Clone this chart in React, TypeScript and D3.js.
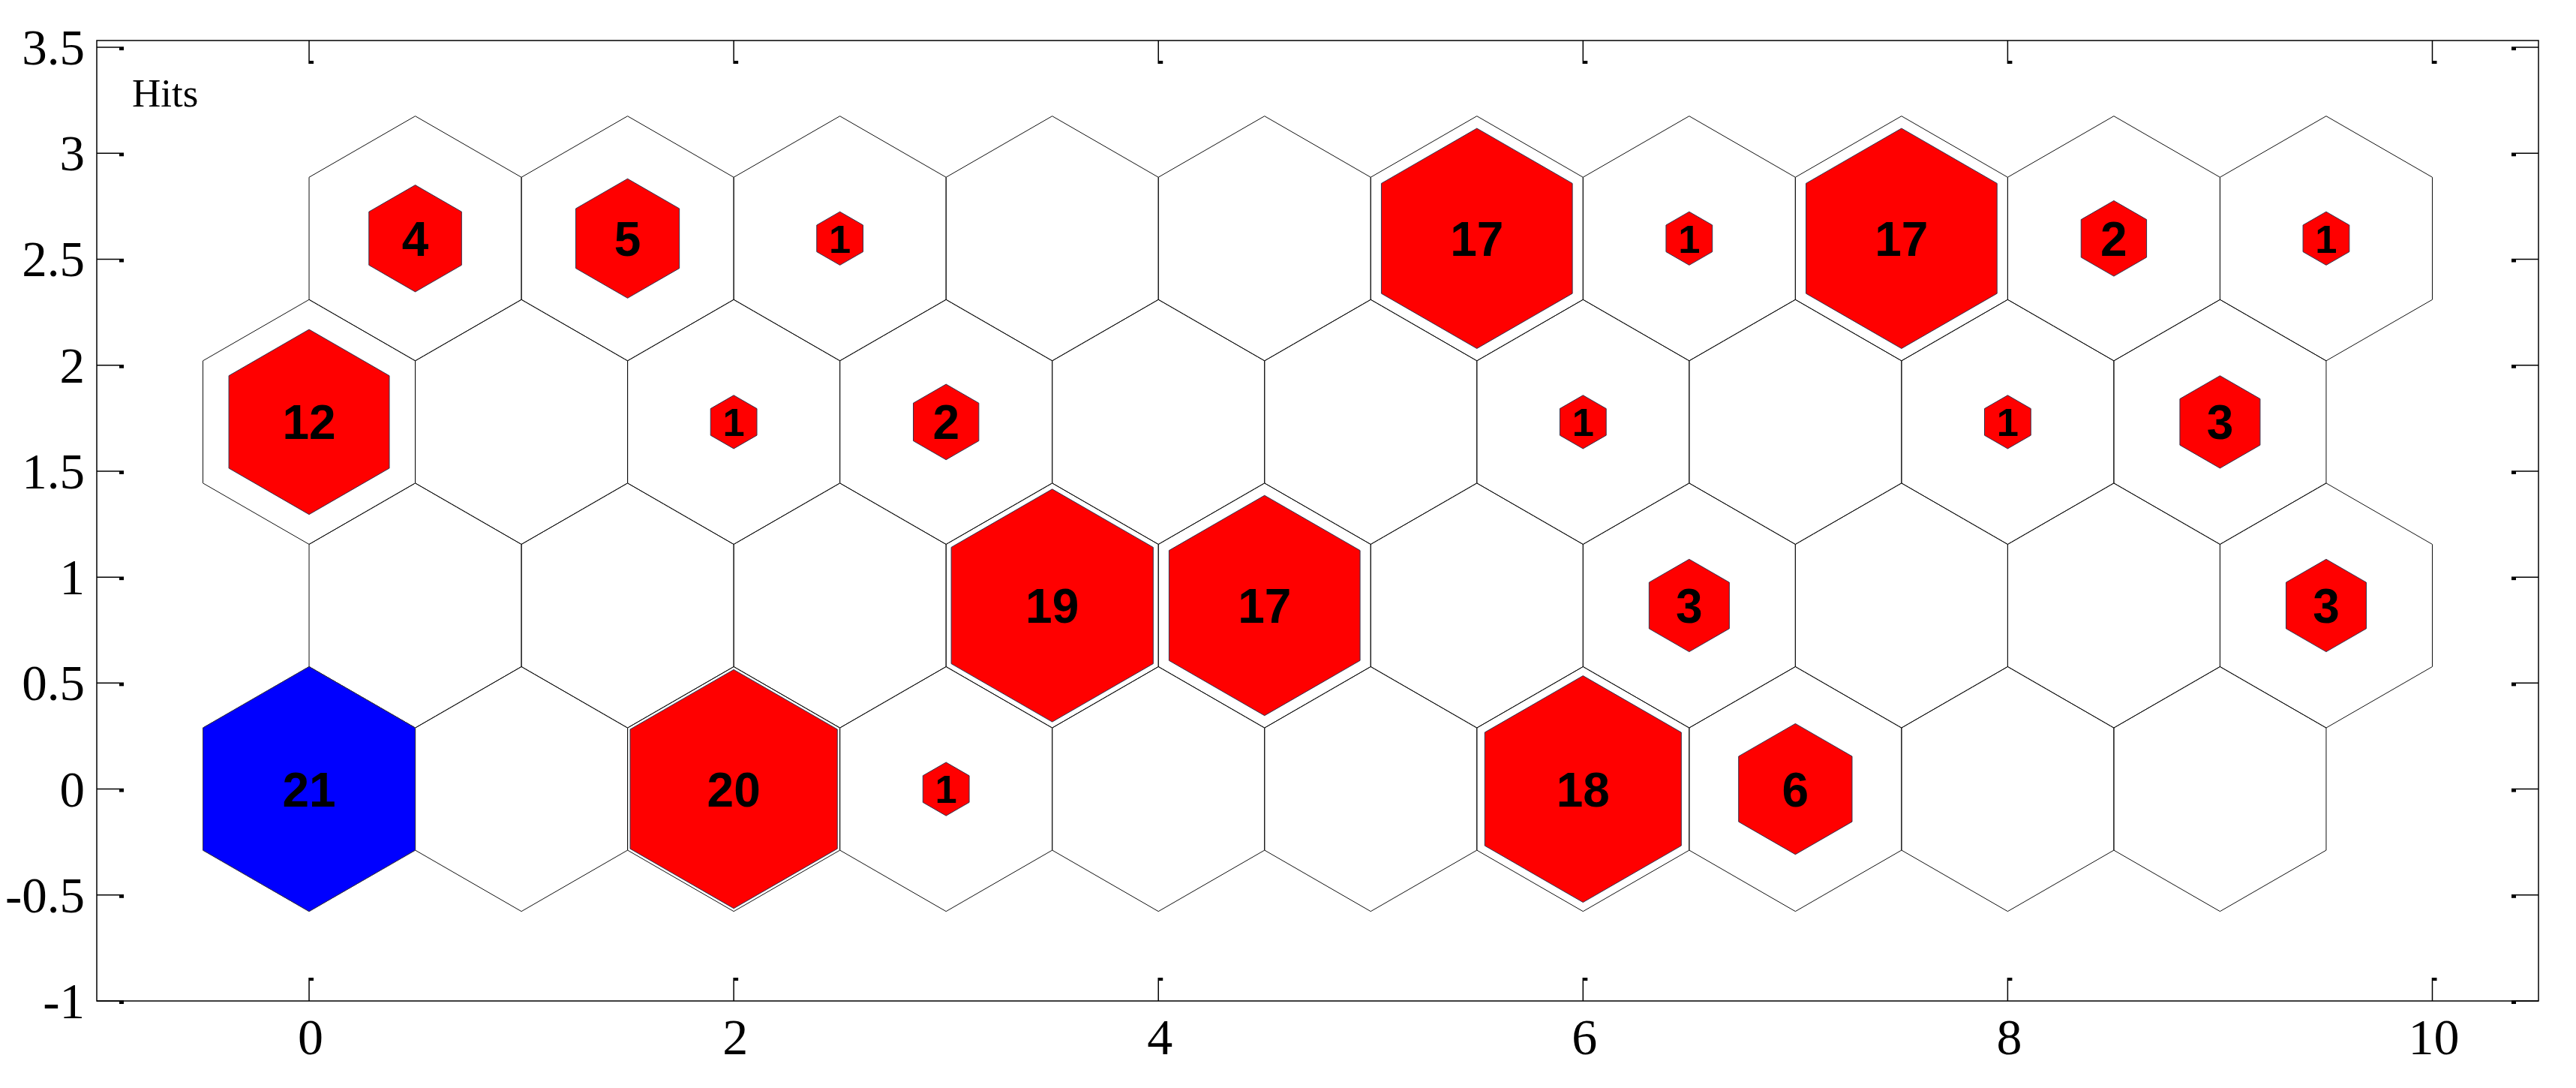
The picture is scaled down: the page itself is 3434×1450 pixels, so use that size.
import React, { useEffect } from 'react';
import * as d3 from 'd3';

// SOM hits, 10 x 4 hexagonal grid, rows listed from bottom to top
const gridCols = 10;
const rowHits0 = [21, 0, 20, 1, 0, 0, 18, 6, 0, 0];
const rowHits1 = [0, 0, 0, 19, 17, 0, 3, 0, 0, 3];
const rowHits2 = [12, 0, 1, 2, 0, 0, 1, 0, 1, 3];
const rowHits3 = [4, 5, 1, 0, 0, 17, 1, 17, 2, 1];
const hitRows = [rowHits0, rowHits1, rowHits2, rowHits3];

const xTicks = [0, 2, 4, 6, 8, 10];
const yTicks = [-1, -0.5, 0, 0.5, 1, 1.5, 2, 2.5, 3, 3.5];
const chartLabel = 'Hits';

const W = 3434;
const H = 1450;
const left = 129, right = 3384, top = 54, bottom = 1334;

const x = d3.scaleLinear().domain([-1, 10.5]).range([left, right]);
const y = d3.scaleLinear().domain([-1, 3.532]).range([bottom, top]);

const R = 1 / Math.sqrt(3);
// pointy-top hexagon in data units
const hexUnit: [number, number][] = [
  [0, R], [0.5, R / 2], [0.5, -R / 2], [0, -R], [-0.5, -R / 2], [-0.5, R / 2]
];

const line = d3.line<[number, number]>().curve(d3.curveLinearClosed);

function hexPath(cx: number, cy: number, s: number) {
  return line(hexUnit.map(([dx, dy]) => [x(cx + dx * s), y(cy + dy * s)]) as [number, number][]) || '';
}

type Cell = { cx: number; cy: number; hits: number };

const cells: Cell[] = [];
hitRows.forEach((row, r) => {
  for (let c = 0; c < gridCols; c++) {
    cells.push({ cx: c + (r % 2 ? 0.5 : 0), cy: r * Math.sqrt(3) / 2, hits: row[c] });
  }
});
const maxHits = d3.max(cells, d => d.hits) || 1;

export default function App() {
  useEffect(() => {
    document.body.style.margin = '0';
  }, []);

  const serif = '"Liberation Serif", "Times New Roman", serif';
  const sans = '"Liberation Sans", Arial, sans-serif';
  const tickX = 31;
  const tickY = 36;

  return (
    <svg width={W} height={H} style={{ display: 'block', background: '#fff' }}>
      <rect x={0} y={0} width={W} height={H} fill="#fff" />

      {/* outer grid hexes */}
      <g>
        {cells.map((d, i) => (
          <path key={'o' + i} d={hexPath(d.cx, d.cy, 1)} fill="none" stroke="#111" strokeWidth={1} />
        ))}
      </g>

      {/* hit hexes */}
      <g>
        {cells.filter(d => d.hits > 0).map((d, i) => {
          const s = Math.sqrt(d.hits / maxHits);
          const fill = d.hits === maxHits ? '#0000ff' : '#ff0000';
          const fs = Math.min(64, s * 283 * 0.85);
          return (
            <g key={'h' + i}>
              <path d={hexPath(d.cx, d.cy, s)} fill={fill} stroke="#34344e" strokeWidth={1} />
              <text x={x(d.cx)} y={y(d.cy) + fs * 0.36} textAnchor="middle"
                fontFamily={sans} fontWeight="bold" fontSize={fs} fill="#000">{d.hits}</text>
            </g>
          );
        })}
      </g>

      {/* axes box */}
      <rect x={left} y={top} width={right - left} height={bottom - top} fill="none" stroke="#000" strokeWidth={1.5} />

      {xTicks.map(t => (
        <g key={'xt' + t}>
          <line x1={x(t)} x2={x(t)} y1={bottom} y2={bottom - tickX} stroke="#000" strokeWidth={1.5} />
          <rect x={x(t)} y={bottom - tickX} width={6} height={4} fill="#000" />
          <line x1={x(t)} x2={x(t)} y1={top} y2={top + tickX} stroke="#000" strokeWidth={1.5} />
          <rect x={x(t)} y={top + tickX - 4} width={6} height={4} fill="#000" />
          <text x={x(t) + 2} y={bottom + 71} textAnchor="middle" fontFamily={serif} fontSize={68} fill="#000">{t}</text>
        </g>
      ))}

      {yTicks.map(t => (
        <g key={'yt' + t}>
          <line x1={left} x2={left + tickY} y1={y(t)} y2={y(t)} stroke="#000" strokeWidth={1.5} />
          <rect x={left + tickY - 6} y={y(t)} width={6} height={4} fill="#000" />
          <line x1={right} x2={right - tickY} y1={y(t)} y2={y(t)} stroke="#000" strokeWidth={1.5} />
          <rect x={right - tickY} y={y(t)} width={6} height={4} fill="#000" />
          <text x={left - 16} y={y(t) + 23} textAnchor="end" fontFamily={serif} fontSize={67} fill="#000">{String(t)}</text>
        </g>
      ))}

      <text x={176} y={142} fontFamily={serif} fontSize={53} fill="#000">{chartLabel}</text>
    </svg>
  );
}
